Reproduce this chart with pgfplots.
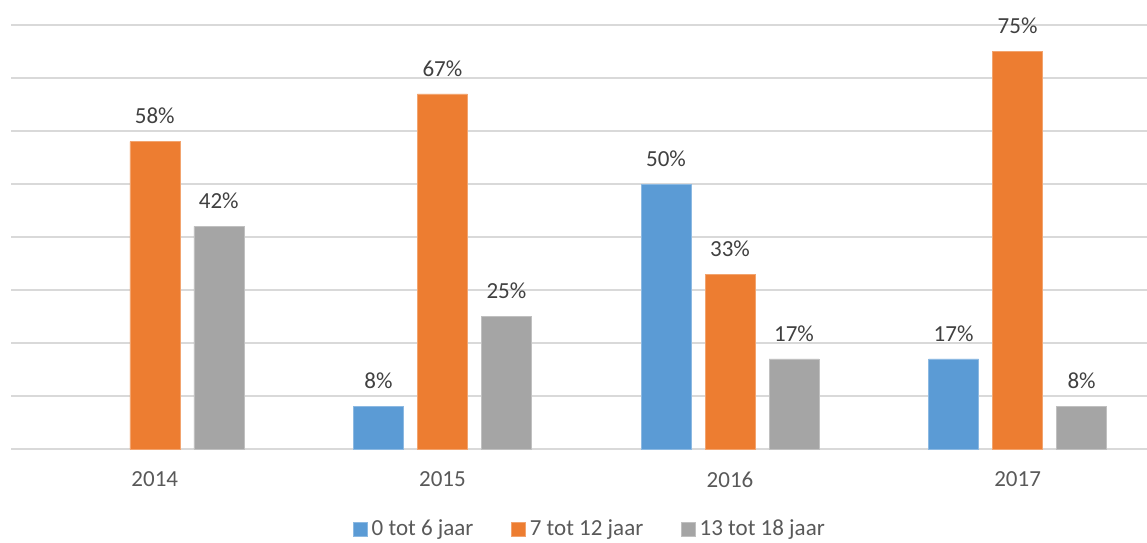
\documentclass[border=0pt]{standalone}
\usepackage{pgfplots}
\pgfplotsset{compat=1.18}
\usepackage{fontspec}
\setmainfont{Carlito}
\definecolor{cblue}{HTML}{5B9BD5}
\definecolor{corange}{HTML}{ED7D31}
\definecolor{cgray}{HTML}{A5A5A5}
\definecolor{cgrid}{HTML}{D9D9D9}
\definecolor{ctext}{HTML}{595959}
\definecolor{clabel}{HTML}{404040}
\begin{document}
\begin{tikzpicture}[font=\fontsize{23}{27}\selectfont]
\begin{axis}[
  at={(11pt,93pt)}, anchor=south west,
  scale only axis, width=1136pt, height=424pt,
  xmin=-0.5, xmax=3.45, ymin=0, ymax=80,
  axis line style={draw=none},
  ytick={0,10,...,80}, yticklabels={},
  ymajorgrids, grid style={cgrid, line width=1.5pt},
  major tick length=0pt,
  xtick={0,1,2,3}, xticklabels={2014,2015,2016,2017},
  xticklabel style={text=ctext, yshift=-19pt},
  ybar, bar width=50pt,
  /pgf/number format/assume math mode=true,
  nodes near coords={\pgfmathprintnumber{\pgfplotspointmeta}\%},
  every node near coord/.append style={text=clabel, yshift=14pt},
  clip=false,
  legend columns=3,
  legend style={draw=none, fill=none, at={(rel axis cs:0.5097,-0.188)}, anchor=center,
    text=ctext, /tikz/every even column/.append style={column sep=36pt},
    /tikz/every odd column/.append style={column sep=2pt}},
  legend image code/.code={\fill[#1] (0pt,-7pt) rectangle (14pt,7pt);},
]
\addplot[fill=cblue, draw=cblue!70!white, bar shift=-64pt] coordinates {(1,8) (2,50) (3,17)};
\addplot[fill=corange, draw=corange!70!white, bar shift=0pt] coordinates {(0,58) (1,67) (2,33) (3,75)};
\addplot[fill=cgray, draw=cgray!70!white, bar shift=64pt] coordinates {(0,42) (1,25) (2,17) (3,8)};
\legend{0 tot 6 jaar, 7 tot 12 jaar, 13 tot 18 jaar}
\end{axis}
\pgfresetboundingbox
\path[use as bounding box] (0,0) rectangle (1147pt,542pt);
\end{tikzpicture}
\end{document}
